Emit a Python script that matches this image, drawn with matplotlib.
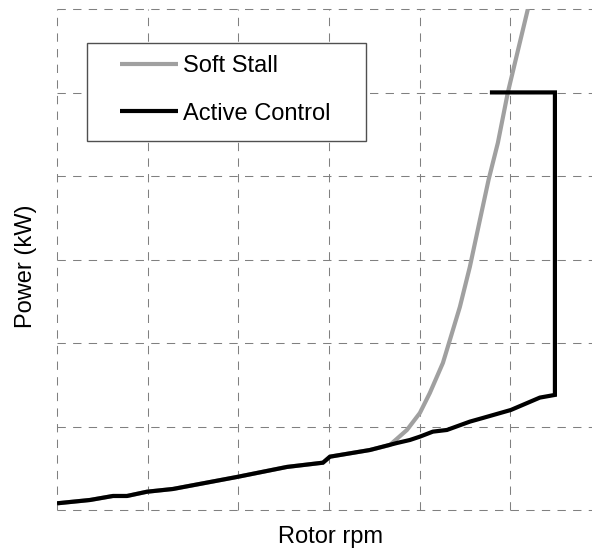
import matplotlib
matplotlib.use("Agg")
import matplotlib.pyplot as plt
from matplotlib.patches import Rectangle

plt.rcParams['font.family'] = ['Liberation Sans', 'DejaVu Sans']

# Rotor speed and power, in grid units (no tick values shown)
active_rpm = [0.0, 0.364, 0.617, 0.772, 0.992, 1.279, 1.985, 2.536, 2.933, 3.010,
              3.451, 3.749, 3.892, 4.002, 4.145, 4.300, 4.553, 4.697, 5.006, 5.325,
              5.491, 5.491, 4.774]
active_power = [0.080, 0.120, 0.168, 0.168, 0.219, 0.252, 0.396, 0.516, 0.567, 0.639,
                0.719, 0.803, 0.839, 0.879, 0.939, 0.959, 1.059, 1.103, 1.199, 1.347,
                1.379, 5.004, 5.004]

stall_rpm = [0.0, 0.364, 0.617, 0.772, 0.992, 1.279, 1.985, 2.536, 2.933, 3.010,
             3.451, 3.671, 3.859, 4.002, 4.112, 4.256, 4.333, 4.443, 4.553, 4.664,
             4.760, 4.862, 4.972, 5.193]
stall_power = [0.080, 0.120, 0.168, 0.168, 0.219, 0.252, 0.396, 0.516, 0.567, 0.639,
               0.719, 0.779, 0.959, 1.163, 1.403, 1.763, 2.038, 2.434, 2.914, 3.477,
               3.960, 4.400, 5.004, 6.004]

series_names = ["Soft Stall", "Active Control"]
x_label = "Rotor rpm"
y_label = "Power (kW)"
grid_x = [0, 1, 2, 3, 4, 5]
grid_y = [0, 1, 2, 3, 4, 5, 6]

fig = plt.figure(figsize=(5.92, 5.49), dpi=100)
ax = fig.add_axes([57 / 592, 39 / 549, 535 / 592, 500.7 / 549])
ax.set_xlim(0, 5.9)
ax.set_ylim(0, 6)

grid_kw = dict(color="#808080", lw=0.75, linestyle=(0, (8, 7)), zorder=0, clip_on=False)
for gx in grid_x:
    ax.axvline(gx, **grid_kw)
for gy in grid_y:
    ax.axhline(gy, **grid_kw)

ax.plot(stall_rpm, stall_power, color="#A0A0A0", lw=3.0, solid_capstyle="butt",
        solid_joinstyle="round", label=series_names[0], zorder=2)
ax.plot(active_rpm, active_power, color="black", lw=3.0, solid_capstyle="butt",
        solid_joinstyle="miter", label=series_names[1], zorder=3)

for s in ax.spines.values():
    s.set_visible(False)
ax.set_xticks([])
ax.set_yticks([])

ax.set_xlabel(x_label, fontsize=17)
ax.set_ylabel(y_label, fontsize=17)
ax.xaxis.set_label_coords((330 - 57) / 535, (510 - 526) / 500.7)
ax.yaxis.set_label_coords((37 - 57) / 535, (510 - 266) / 500.7)

# Legend with its own rectangular frame
ax.add_patch(Rectangle(((86.7 - 57) / 535, (510 - 141) / 500.7), 279 / 535, 98.3 / 500.7,
                       transform=ax.transAxes, facecolor="white", edgecolor="#505050",
                       lw=1.0, zorder=4, clip_on=False))
leg = ax.legend(loc="upper left", bbox_to_anchor=((120 - 57) / 535, (510 - 55) / 500.7),
                frameon=False, fontsize=17, handlelength=2.46, handletextpad=0.22,
                labelspacing=1.08, borderpad=0, borderaxespad=0)
leg.set_zorder(5)

fig.savefig("out.png", dpi=100, facecolor="white")
